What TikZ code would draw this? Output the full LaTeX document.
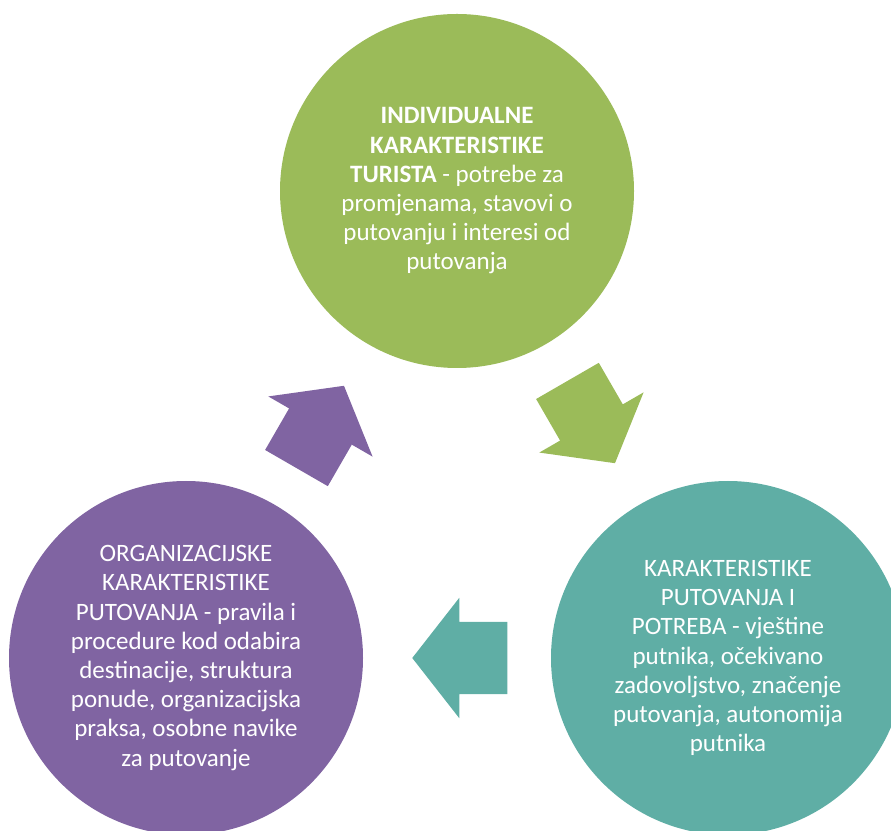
\documentclass[tikz,border=0pt]{standalone}
\usepackage{fontspec}
\setmainfont{Carlito}
\usepackage{tikz}
\usetikzlibrary{shapes.arrows, positioning, calc}
\definecolor{TouristGreen}{HTML}{9BBB59}
\definecolor{TripTeal}{HTML}{5FAEA5}
\definecolor{OrgPurple}{HTML}{8064A2}
\tikzset{
  % Circle styles
  factorcircle/.style={circle, minimum size=354pt, inner sep=0pt, text=white, align=center, font=\fontsize{25}{29.2}\selectfont},
  % Arrow styles
  cyclearrow/.style={single arrow, anchor=tip, minimum height=95pt, inner xsep=0pt, inner ysep=36pt, single arrow head extend=24pt, single arrow tip angle=104}
}

\begin{document}
\begin{tikzpicture}[x=1pt, y=1pt]
  \useasboundingbox (0,0) rectangle (891,830);
  \clip (0,0) rectangle (891,830);

  % Circles
  \node[factorcircle, fill=TouristGreen] (tourist) at (457,639) {\textbf{INDIVIDUALNE}\\\textbf{KARAKTERISTIKE}\\\textbf{TURISTA} - potrebe za\\promjenama, stavovi o\\putovanju i interesi od\\putovanja};

  \node[factorcircle, fill=TripTeal] (trip) at (728,172) {KARAKTERISTIKE\\PUTOVANJA I\\POTREBA - vještine\\putnika, očekivano\\zadovoljstvo, značenje\\putovanja, autonomija\\putnika};

  \node[factorcircle, fill=OrgPurple] (org) at (186,172) {ORGANIZACIJSKE\\KARAKTERISTIKE\\PUTOVANJA - pravila i\\procedure kod odabira\\destinacije, struktura\\ponude, organizacijska\\praksa, osobne navike\\za putovanje};

  % Arrows (tip 45pt past the midpoint)
  \node[cyclearrow, fill=TouristGreen, rotate=-60] (touristtotrip) at ($(tourist)!0.5!(trip)!45pt!(trip)$) {};
  \node[cyclearrow, fill=TripTeal, rotate=180] (triptoorg) at ($(trip)!0.5!(org)!45pt!(org)$) {};
  \node[cyclearrow, fill=OrgPurple, rotate=60] (orgtotourist) at ($(org)!0.5!(tourist)!45pt!(tourist)$) {};
\end{tikzpicture}
\end{document}
